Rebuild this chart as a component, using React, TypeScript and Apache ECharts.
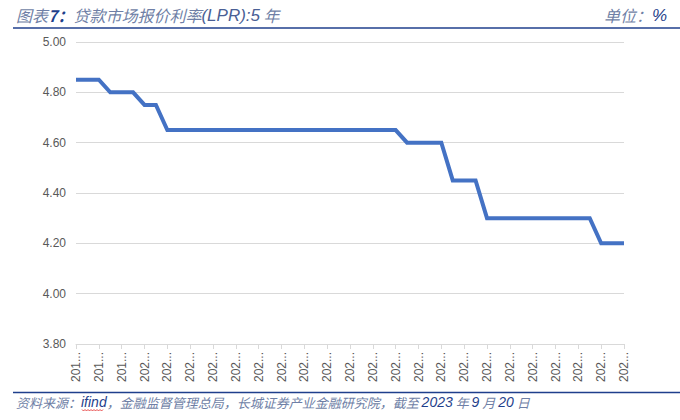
import React, { useEffect, useRef } from "react";
import * as echarts from "echarts";

// Monthly 5-year LPR, Aug 2019 – Aug 2023
const months = [
  "2019-08", "2019-09", "2019-10", "2019-11", "2019-12",
  "2020-01", "2020-02", "2020-03", "2020-04", "2020-05", "2020-06", "2020-07", "2020-08", "2020-09", "2020-10", "2020-11", "2020-12",
  "2021-01", "2021-02", "2021-03", "2021-04", "2021-05", "2021-06", "2021-07", "2021-08", "2021-09", "2021-10", "2021-11", "2021-12",
  "2022-01", "2022-02", "2022-03", "2022-04", "2022-05", "2022-06", "2022-07", "2022-08", "2022-09", "2022-10", "2022-11", "2022-12",
  "2023-01", "2023-02", "2023-03", "2023-04", "2023-05", "2023-06", "2023-07", "2023-08",
];
const lpr5y = [
  4.85, 4.85, 4.85, 4.80, 4.80,
  4.80, 4.75, 4.75, 4.65, 4.65, 4.65, 4.65, 4.65, 4.65, 4.65, 4.65, 4.65,
  4.65, 4.65, 4.65, 4.65, 4.65, 4.65, 4.65, 4.65, 4.65, 4.65, 4.65, 4.65,
  4.60, 4.60, 4.60, 4.60, 4.45, 4.45, 4.45, 4.30, 4.30, 4.30, 4.30, 4.30,
  4.30, 4.30, 4.30, 4.30, 4.30, 4.20, 4.20, 4.20,
];
const yMin = 3.8;
const yMax = 5.0;
const yStep = 0.2;

const titleParts = ["图表", "7：", "贷款市场报价利率", "(LPR):5", " 年"];
const unitParts = ["单位：", "%"];
const sourceParts = ["资料来源：", "ifind", "，金融监督管理总局，长城证券产业金融研究院，截至 ", "2023", " 年 ", "9", " 月 ", "20", " 日"];

const CJK = "'Noto Sans CJK SC', 'Noto Sans', sans-serif";
const LAT = "'Liberation Sans', Arial, sans-serif";
const soft = "#6f7fa6";
const navy = "#1f3f8c";

export default function App() {
  const ref = useRef<HTMLDivElement>(null);
  useEffect(() => {
    const chart = echarts.init(ref.current!, null, { renderer: "svg" });

    const wave: number[][] = [];
    for (let i = 0; i <= 14; i++) wave.push([82 + i * 1.5, 409.5 + (i % 2 === 0 ? 0 : 1.5)]);

    chart.setOption({
      animation: false,
      backgroundColor: "#ffffff",
      grid: { left: 76, right: 56, top: 42, bottom: 76, containLabel: false },
      xAxis: {
        type: "category",
        data: months,
        boundaryGap: false,
        axisLine: { show: true, lineStyle: { color: "#d9d9d9", width: 1 } },
        axisTick: { show: true, interval: 1, length: 5, lineStyle: { color: "#d9d9d9" } },
        axisLabel: {
          interval: 1,
          rotate: 90,
          margin: 8,
          color: "#595959",
          fontSize: 12,
          fontFamily: LAT,
          width: 36,
          overflow: "truncate",
          ellipsis: "...",
        },
        splitLine: { show: false },
      },
      yAxis: {
        type: "value",
        min: yMin,
        max: yMax,
        interval: yStep,
        axisLine: { show: false },
        axisTick: { show: false },
        axisLabel: {
          color: "#595959",
          fontSize: 12,
          fontFamily: LAT,
          margin: 10,
          formatter: (v: number) => v.toFixed(2),
        },
        splitLine: { show: true, lineStyle: { color: "#d9d9d9", width: 1 } },
      },
      series: [
        {
          type: "line",
          data: lpr5y,
          showSymbol: false,
          symbol: "none",
          lineStyle: { color: "#4472c4", width: 4, join: "miter" },
          itemStyle: { color: "#4472c4" },
        },
      ],
      graphic: [
        {
          type: "text",
          x: 16,
          y: 15,
          style: {
            text: `{c|${titleParts[0]}}{n|${titleParts[1]}}{c|${titleParts[2]}}{m|${titleParts[3]}}{c|${titleParts[4]}}`,
            textVerticalAlign: "middle",
            rich: {
              c: { fontFamily: CJK, fontSize: 16, fontStyle: "italic", fill: soft },
              n: { fontFamily: CJK, fontSize: 16, fontStyle: "italic", fontWeight: "bold", fill: navy },
              m: { fontFamily: LAT, fontSize: 17, fontStyle: "italic", fill: "#4a5f95" },
            },
          },
        },
        {
          type: "text",
          x: 667,
          y: 15,
          style: {
            text: `{c|${unitParts[0]}}{n|${unitParts[1]}}`,
            textAlign: "right",
            textVerticalAlign: "middle",
            rich: {
              c: { fontFamily: CJK, fontSize: 16, fontStyle: "italic", fill: soft },
              n: { fontFamily: LAT, fontSize: 17, fontStyle: "italic", fill: navy },
            },
          },
        },
        {
          type: "line",
          shape: { x1: 13, y1: 28, x2: 680, y2: 28 },
          style: { stroke: "#1f3f8c", lineWidth: 1.5 },
        },
        {
          type: "line",
          shape: { x1: 13, y1: 392.5, x2: 680, y2: 392.5 },
          style: { stroke: "#1f3f8c", lineWidth: 1.5 },
        },
        {
          type: "text",
          x: 16,
          y: 402,
          style: {
            text:
              `{c|${sourceParts[0]}}{l|${sourceParts[1]}}{c|${sourceParts[2]}}{b|${sourceParts[3]}}{c|${sourceParts[4]}}` +
              `{b|${sourceParts[5]}}{c|${sourceParts[6]}}{b|${sourceParts[7]}}{c|${sourceParts[8]}}`,
            textVerticalAlign: "middle",
            rich: {
              c: { fontFamily: CJK, fontSize: 13, fontStyle: "italic", fill: soft },
              l: { fontFamily: LAT, fontSize: 14, fontStyle: "italic", fill: navy },
              b: { fontFamily: LAT, fontSize: 14, fontStyle: "italic", fill: navy },
            },
          },
        },
        {
          type: "polyline",
          shape: { points: wave },
          style: { stroke: "#e02020", lineWidth: 0.8, fill: null },
        },
      ],
    });
    return () => chart.dispose();
  }, []);
  return (
    <div
      ref={ref}
      style={{ position: "fixed", left: 0, top: 0, width: 680, height: 420, background: "#fff" }}
    />
  );
}
